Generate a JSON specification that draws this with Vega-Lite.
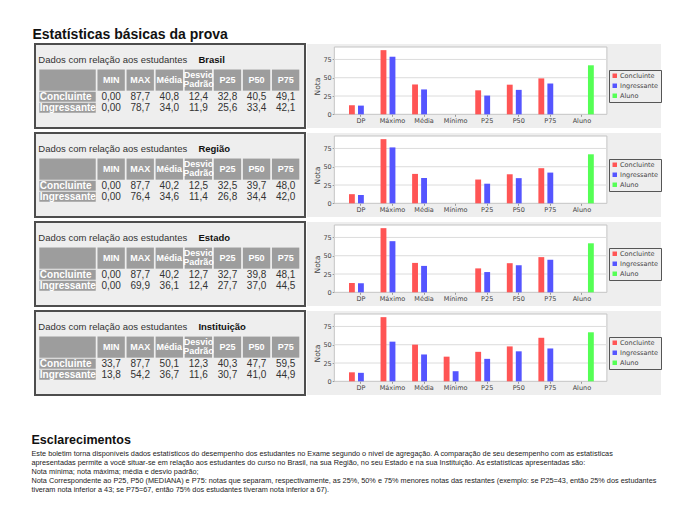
{
  "$schema": "https://vega.github.io/schema/vega-lite/v6.json",
  "background": "#ffffff",
  "padding": {"left": 31, "top": 28, "right": 4, "bottom": 4},
  "title": {"text": "Estatísticas básicas da prova", "anchor": "start", "font": "Liberation Sans", "fontSize": 14, "fontWeight": "bold", "color": "#111111", "offset": 1, "dx": 1},
  "config": {
    "view": {"stroke": null},
    "font": "Liberation Sans",
    "locale": {"number": {"decimal": ",", "thousands": ".", "grouping": [3], "currency": ["R$ ", ""]}}
  },
  "datasets": {
    "stats": [
      {"nivel": "Brasil", "grupo": "Concluinte", "col": "MIN", "cat": "Mínimo", "v": 0},
      {"nivel": "Brasil", "grupo": "Concluinte", "col": "MAX", "cat": "Máximo", "v": 87.7},
      {"nivel": "Brasil", "grupo": "Concluinte", "col": "Média", "cat": "Média", "v": 40.8},
      {"nivel": "Brasil", "grupo": "Concluinte", "col": "Desvio Padrão", "cat": "DP", "v": 12.4},
      {"nivel": "Brasil", "grupo": "Concluinte", "col": "P25", "cat": "P25", "v": 32.8},
      {"nivel": "Brasil", "grupo": "Concluinte", "col": "P50", "cat": "P50", "v": 40.5},
      {"nivel": "Brasil", "grupo": "Concluinte", "col": "P75", "cat": "P75", "v": 49.1},
      {"nivel": "Brasil", "grupo": "Ingressante", "col": "MIN", "cat": "Mínimo", "v": 0},
      {"nivel": "Brasil", "grupo": "Ingressante", "col": "MAX", "cat": "Máximo", "v": 78.7},
      {"nivel": "Brasil", "grupo": "Ingressante", "col": "Média", "cat": "Média", "v": 34.0},
      {"nivel": "Brasil", "grupo": "Ingressante", "col": "Desvio Padrão", "cat": "DP", "v": 11.9},
      {"nivel": "Brasil", "grupo": "Ingressante", "col": "P25", "cat": "P25", "v": 25.6},
      {"nivel": "Brasil", "grupo": "Ingressante", "col": "P50", "cat": "P50", "v": 33.4},
      {"nivel": "Brasil", "grupo": "Ingressante", "col": "P75", "cat": "P75", "v": 42.1},
      {"nivel": "Brasil", "grupo": "Aluno", "col": "", "cat": "Aluno", "v": 67},
      {"nivel": "Região", "grupo": "Concluinte", "col": "MIN", "cat": "Mínimo", "v": 0},
      {"nivel": "Região", "grupo": "Concluinte", "col": "MAX", "cat": "Máximo", "v": 87.7},
      {"nivel": "Região", "grupo": "Concluinte", "col": "Média", "cat": "Média", "v": 40.2},
      {"nivel": "Região", "grupo": "Concluinte", "col": "Desvio Padrão", "cat": "DP", "v": 12.5},
      {"nivel": "Região", "grupo": "Concluinte", "col": "P25", "cat": "P25", "v": 32.5},
      {"nivel": "Região", "grupo": "Concluinte", "col": "P50", "cat": "P50", "v": 39.7},
      {"nivel": "Região", "grupo": "Concluinte", "col": "P75", "cat": "P75", "v": 48.0},
      {"nivel": "Região", "grupo": "Ingressante", "col": "MIN", "cat": "Mínimo", "v": 0},
      {"nivel": "Região", "grupo": "Ingressante", "col": "MAX", "cat": "Máximo", "v": 76.4},
      {"nivel": "Região", "grupo": "Ingressante", "col": "Média", "cat": "Média", "v": 34.6},
      {"nivel": "Região", "grupo": "Ingressante", "col": "Desvio Padrão", "cat": "DP", "v": 11.4},
      {"nivel": "Região", "grupo": "Ingressante", "col": "P25", "cat": "P25", "v": 26.8},
      {"nivel": "Região", "grupo": "Ingressante", "col": "P50", "cat": "P50", "v": 34.4},
      {"nivel": "Região", "grupo": "Ingressante", "col": "P75", "cat": "P75", "v": 42.0},
      {"nivel": "Região", "grupo": "Aluno", "col": "", "cat": "Aluno", "v": 67},
      {"nivel": "Estado", "grupo": "Concluinte", "col": "MIN", "cat": "Mínimo", "v": 0},
      {"nivel": "Estado", "grupo": "Concluinte", "col": "MAX", "cat": "Máximo", "v": 87.7},
      {"nivel": "Estado", "grupo": "Concluinte", "col": "Média", "cat": "Média", "v": 40.2},
      {"nivel": "Estado", "grupo": "Concluinte", "col": "Desvio Padrão", "cat": "DP", "v": 12.7},
      {"nivel": "Estado", "grupo": "Concluinte", "col": "P25", "cat": "P25", "v": 32.7},
      {"nivel": "Estado", "grupo": "Concluinte", "col": "P50", "cat": "P50", "v": 39.8},
      {"nivel": "Estado", "grupo": "Concluinte", "col": "P75", "cat": "P75", "v": 48.1},
      {"nivel": "Estado", "grupo": "Ingressante", "col": "MIN", "cat": "Mínimo", "v": 0},
      {"nivel": "Estado", "grupo": "Ingressante", "col": "MAX", "cat": "Máximo", "v": 69.9},
      {"nivel": "Estado", "grupo": "Ingressante", "col": "Média", "cat": "Média", "v": 36.1},
      {"nivel": "Estado", "grupo": "Ingressante", "col": "Desvio Padrão", "cat": "DP", "v": 12.4},
      {"nivel": "Estado", "grupo": "Ingressante", "col": "P25", "cat": "P25", "v": 27.7},
      {"nivel": "Estado", "grupo": "Ingressante", "col": "P50", "cat": "P50", "v": 37.0},
      {"nivel": "Estado", "grupo": "Ingressante", "col": "P75", "cat": "P75", "v": 44.5},
      {"nivel": "Estado", "grupo": "Aluno", "col": "", "cat": "Aluno", "v": 67},
      {"nivel": "Instituição", "grupo": "Concluinte", "col": "MIN", "cat": "Mínimo", "v": 33.7},
      {"nivel": "Instituição", "grupo": "Concluinte", "col": "MAX", "cat": "Máximo", "v": 87.7},
      {"nivel": "Instituição", "grupo": "Concluinte", "col": "Média", "cat": "Média", "v": 50.1},
      {"nivel": "Instituição", "grupo": "Concluinte", "col": "Desvio Padrão", "cat": "DP", "v": 12.3},
      {"nivel": "Instituição", "grupo": "Concluinte", "col": "P25", "cat": "P25", "v": 40.3},
      {"nivel": "Instituição", "grupo": "Concluinte", "col": "P50", "cat": "P50", "v": 47.7},
      {"nivel": "Instituição", "grupo": "Concluinte", "col": "P75", "cat": "P75", "v": 59.5},
      {"nivel": "Instituição", "grupo": "Ingressante", "col": "MIN", "cat": "Mínimo", "v": 13.8},
      {"nivel": "Instituição", "grupo": "Ingressante", "col": "MAX", "cat": "Máximo", "v": 54.2},
      {"nivel": "Instituição", "grupo": "Ingressante", "col": "Média", "cat": "Média", "v": 36.7},
      {"nivel": "Instituição", "grupo": "Ingressante", "col": "Desvio Padrão", "cat": "DP", "v": 11.6},
      {"nivel": "Instituição", "grupo": "Ingressante", "col": "P25", "cat": "P25", "v": 30.7},
      {"nivel": "Instituição", "grupo": "Ingressante", "col": "P50", "cat": "P50", "v": 41.0},
      {"nivel": "Instituição", "grupo": "Ingressante", "col": "P75", "cat": "P75", "v": 44.9},
      {"nivel": "Instituição", "grupo": "Aluno", "col": "", "cat": "Aluno", "v": 67}
    ]
  },
  "vconcat": [
    {
      "spacing": 1,
      "hconcat": [
        {
          "data": {"name": "stats"},
          "transform": [{"filter": "datum.grupo !== 'Aluno'"}],
          "facet": {"row": {"field": "nivel", "type": "nominal", "sort": ["Brasil", "Região", "Estado", "Instituição"], "header": null}},
          "spacing": {"row": 3},
          "spec": {
            "width": 270,
            "height": 84,
            "view": {"fill": "#eeeeee", "stroke": "#4d4d4d", "strokeWidth": 2},
            "layer": [
              {
                "transform": [{"filter": "datum.grupo === 'Concluinte'"}],
                "mark": {"type": "rect", "fill": "#9d9d9d"},
                "encoding": {
                  "x": {"field": "col", "type": "nominal", "axis": null, "scale": {"domain": ["L1", "L2", "MIN", "MAX", "Média", "Desvio Padrão", "P25", "P50", "P75"], "range": [4.3, 264.3], "paddingInner": 0.06, "paddingOuter": 0}},
                  "y": {"datum": "h1", "type": "nominal", "bandPosition": 0, "axis": null, "scale": {"domain": ["t", "h1", "h2", "Concluinte", "Ingressante"], "range": [14.5, 68.8], "paddingInner": 0.1, "paddingOuter": 0}},
                  "y2": {"datum": "h2", "bandPosition": 1}
                }
              },
              {
                "transform": [{"filter": "datum.grupo === 'Concluinte' && datum.col === 'MIN'"}],
                "mark": {"type": "rect", "fill": "#9d9d9d"},
                "encoding": {
                  "x": {"datum": "L1", "type": "nominal", "bandPosition": 0, "axis": null, "scale": {"domain": ["L1", "L2", "MIN", "MAX", "Média", "Desvio Padrão", "P25", "P50", "P75"], "range": [4.3, 264.3], "paddingInner": 0.06, "paddingOuter": 0}},
                  "x2": {"datum": "L2", "bandPosition": 1},
                  "y": {"datum": "h1", "type": "nominal", "bandPosition": 0, "axis": null, "scale": {"domain": ["t", "h1", "h2", "Concluinte", "Ingressante"], "range": [14.5, 68.8], "paddingInner": 0.1, "paddingOuter": 0}},
                  "y2": {"datum": "h2", "bandPosition": 1}
                }
              },
              {
                "transform": [{"filter": "datum.col === 'MIN'"}],
                "mark": {"type": "rect", "fill": "#9d9d9d"},
                "encoding": {
                  "x": {"datum": "L1", "type": "nominal", "bandPosition": 0, "axis": null, "scale": {"domain": ["L1", "L2", "MIN", "MAX", "Média", "Desvio Padrão", "P25", "P50", "P75"], "range": [4.3, 264.3], "paddingInner": 0.06, "paddingOuter": 0}},
                  "x2": {"datum": "L2", "bandPosition": 1},
                  "y": {"field": "grupo", "type": "nominal", "axis": null, "scale": {"domain": ["t", "h1", "h2", "Concluinte", "Ingressante"], "range": [14.5, 68.8], "paddingInner": 0.1, "paddingOuter": 0}}
                }
              },
              {
                "transform": [{"filter": "datum.grupo === 'Concluinte' && datum.col !== 'Desvio Padrão'"}],
                "mark": {"type": "text", "font": "Liberation Sans", "fontSize": 9, "fontWeight": "bold", "color": "#ffffff", "baseline": "middle", "align": "center"},
                "encoding": {
                  "x": {"field": "col", "type": "nominal", "axis": null, "scale": {"domain": ["L1", "L2", "MIN", "MAX", "Média", "Desvio Padrão", "P25", "P50", "P75"], "range": [4.3, 264.3], "paddingInner": 0.06, "paddingOuter": 0}},
                  "y": {"datum": "h1", "type": "nominal", "bandPosition": 1, "axis": null, "scale": {"domain": ["t", "h1", "h2", "Concluinte", "Ingressante"], "range": [14.5, 68.8], "paddingInner": 0.1, "paddingOuter": 0}},
                  "text": {"field": "col"}
                }
              },
              {
                "transform": [{"filter": "datum.grupo === 'Concluinte' && datum.col === 'Desvio Padrão'"}],
                "mark": {"type": "text", "font": "Liberation Sans", "fontSize": 9, "fontWeight": "bold", "color": "#ffffff", "lineBreak": " ", "lineHeight": 9, "baseline": "middle", "align": "center"},
                "encoding": {
                  "x": {"field": "col", "type": "nominal", "axis": null, "scale": {"domain": ["L1", "L2", "MIN", "MAX", "Média", "Desvio Padrão", "P25", "P50", "P75"], "range": [4.3, 264.3], "paddingInner": 0.06, "paddingOuter": 0}},
                  "y": {"datum": "h1", "type": "nominal", "bandPosition": 0.5, "axis": null, "scale": {"domain": ["t", "h1", "h2", "Concluinte", "Ingressante"], "range": [14.5, 68.8], "paddingInner": 0.1, "paddingOuter": 0}},
                  "text": {"field": "col"}
                }
              },
              {
                "transform": [{"filter": "datum.col === 'MIN'"}],
                "mark": {"type": "text", "font": "Liberation Sans", "fontSize": 10, "fontWeight": "bold", "color": "#ffffff", "align": "left", "baseline": "middle", "dx": 0.5},
                "encoding": {
                  "x": {"datum": "L1", "type": "nominal", "bandPosition": 0, "axis": null, "scale": {"domain": ["L1", "L2", "MIN", "MAX", "Média", "Desvio Padrão", "P25", "P50", "P75"], "range": [4.3, 264.3], "paddingInner": 0.06, "paddingOuter": 0}},
                  "y": {"field": "grupo", "type": "nominal", "axis": null, "scale": {"domain": ["t", "h1", "h2", "Concluinte", "Ingressante"], "range": [14.5, 68.8], "paddingInner": 0.1, "paddingOuter": 0}},
                  "text": {"field": "grupo"}
                }
              },
              {
                "mark": {"type": "text", "font": "Liberation Sans", "fontSize": 10, "color": "#333333", "baseline": "middle", "align": "center"},
                "encoding": {
                  "x": {"field": "col", "type": "nominal", "axis": null, "scale": {"domain": ["L1", "L2", "MIN", "MAX", "Média", "Desvio Padrão", "P25", "P50", "P75"], "range": [4.3, 264.3], "paddingInner": 0.06, "paddingOuter": 0}},
                  "y": {"field": "grupo", "type": "nominal", "axis": null, "scale": {"domain": ["t", "h1", "h2", "Concluinte", "Ingressante"], "range": [14.5, 68.8], "paddingInner": 0.1, "paddingOuter": 0}},
                  "text": {"condition": {"test": "datum.v === 0", "value": "0,00"}, "field": "v", "type": "quantitative", "format": ".1f"}
                }
              },
              {
                "transform": [{"filter": "datum.grupo === 'Concluinte' && datum.col === 'MIN'"}],
                "mark": {"type": "text", "font": "Liberation Sans", "fontSize": 9.5, "color": "#333333", "align": "left", "baseline": "middle", "dx": -1, "dy": -3.5},
                "encoding": {
                  "x": {"datum": "L1", "type": "nominal", "bandPosition": 0, "axis": null, "scale": {"domain": ["L1", "L2", "MIN", "MAX", "Média", "Desvio Padrão", "P25", "P50", "P75"], "range": [4.3, 264.3], "paddingInner": 0.06, "paddingOuter": 0}},
                  "y": {"datum": "t", "type": "nominal", "axis": null, "scale": {"domain": ["t", "h1", "h2", "Concluinte", "Ingressante"], "range": [14.5, 68.8], "paddingInner": 0.1, "paddingOuter": 0}},
                  "text": {"value": "Dados com relação aos estudantes"}
                }
              },
              {
                "transform": [{"filter": "datum.grupo === 'Concluinte' && datum.col === 'MIN'"}],
                "mark": {"type": "text", "font": "Liberation Sans", "fontSize": 9.5, "fontWeight": "bold", "color": "#111111", "align": "left", "baseline": "middle", "dy": -3.5},
                "encoding": {
                  "x": {"datum": "Desvio Padrão", "type": "nominal", "bandPosition": 0.5, "axis": null, "scale": {"domain": ["L1", "L2", "MIN", "MAX", "Média", "Desvio Padrão", "P25", "P50", "P75"], "range": [4.3, 264.3], "paddingInner": 0.06, "paddingOuter": 0}},
                  "y": {"datum": "t", "type": "nominal", "axis": null, "scale": {"domain": ["t", "h1", "h2", "Concluinte", "Ingressante"], "range": [14.5, 68.8], "paddingInner": 0.1, "paddingOuter": 0}},
                  "text": {"field": "nivel"}
                }
              }
            ]
          }
        },
        {
          "spacing": 5,
          "resolve": {"scale": {"color": "independent"}, "legend": {"color": "independent"}},
          "vconcat": [
            {
              "width": 354, "height": 84,
              "view": {"fill": "#eeeeee", "stroke": null},
              "data": {"name": "stats"},
              "transform": [{"filter": "datum.nivel === 'Brasil'"}],
              "layer": [
                {
                  "transform": [{"filter": "datum.grupo === 'Aluno'"}],
                  "mark": {"type": "rect", "fill": "#ffffff", "stroke": "#c4c4c4", "strokeWidth": 1},
                  "encoding": {
                    "x": {"datum": "DP", "type": "nominal", "bandPosition": -0.491, "scale": {"domain": ["DP", "Máximo", "Média", "Mínimo", "P25", "P50", "P75", "Aluno"], "range": [40.5, 288.3], "paddingInner": 0.15, "paddingOuter": 0}, "axis": {"title": null, "offset": -13.7, "domain": false, "tickSize": 2, "tickColor": "#999999", "labelFontSize": 6.5, "labelFont": "DejaVu Sans", "labelColor": "#444444", "labelPadding": 1.5, "labelAngle": 0}},
                    "x2": {"datum": "Aluno", "bandPosition": 1.432},
                    "y": {"datum": 0, "type": "quantitative", "scale": {"domain": [-18.7, 96.1], "nice": false, "zero": false}, "axis": {"title": "Nota", "offset": -27.2, "values": [0, 25, 50, 75], "domain": false, "grid": false, "tickSize": 2, "tickColor": "#999999", "labelFontSize": 6.5, "labelFont": "DejaVu Sans", "labelColor": "#444444", "labelPadding": 1, "titleFont": "DejaVu Sans", "titleFontSize": 7.5, "titleFontWeight": "normal", "titleColor": "#444444", "titlePadding": 1.5}},
                    "y2": {"datum": 92}
                  }
                },
                {
                  "transform": [{"filter": "datum.grupo === 'Aluno'"}],
                  "mark": {"type": "rule", "color": "#dcdcdc", "strokeWidth": 1},
                  "encoding": {
                    "x": {"datum": "DP", "type": "nominal", "bandPosition": -0.491, "scale": {"domain": ["DP", "Máximo", "Média", "Mínimo", "P25", "P50", "P75", "Aluno"], "range": [40.5, 288.3], "paddingInner": 0.15, "paddingOuter": 0}, "axis": {"title": null, "offset": -13.7, "domain": false, "tickSize": 2, "tickColor": "#999999", "labelFontSize": 6.5, "labelFont": "DejaVu Sans", "labelColor": "#444444", "labelPadding": 1.5, "labelAngle": 0}},
                    "x2": {"datum": "Aluno", "bandPosition": 1.432},
                    "y": {"datum": 25, "type": "quantitative", "scale": {"domain": [-18.7, 96.1], "nice": false, "zero": false}, "axis": {"title": "Nota", "offset": -27.2, "values": [0, 25, 50, 75], "domain": false, "grid": false, "tickSize": 2, "tickColor": "#999999", "labelFontSize": 6.5, "labelFont": "DejaVu Sans", "labelColor": "#444444", "labelPadding": 1, "titleFont": "DejaVu Sans", "titleFontSize": 7.5, "titleFontWeight": "normal", "titleColor": "#444444", "titlePadding": 1.5}}
                  }
                },
                {
                  "transform": [{"filter": "datum.grupo === 'Aluno'"}],
                  "mark": {"type": "rule", "color": "#dcdcdc", "strokeWidth": 1},
                  "encoding": {
                    "x": {"datum": "DP", "type": "nominal", "bandPosition": -0.491, "scale": {"domain": ["DP", "Máximo", "Média", "Mínimo", "P25", "P50", "P75", "Aluno"], "range": [40.5, 288.3], "paddingInner": 0.15, "paddingOuter": 0}, "axis": {"title": null, "offset": -13.7, "domain": false, "tickSize": 2, "tickColor": "#999999", "labelFontSize": 6.5, "labelFont": "DejaVu Sans", "labelColor": "#444444", "labelPadding": 1.5, "labelAngle": 0}},
                    "x2": {"datum": "Aluno", "bandPosition": 1.432},
                    "y": {"datum": 50, "type": "quantitative", "scale": {"domain": [-18.7, 96.1], "nice": false, "zero": false}, "axis": {"title": "Nota", "offset": -27.2, "values": [0, 25, 50, 75], "domain": false, "grid": false, "tickSize": 2, "tickColor": "#999999", "labelFontSize": 6.5, "labelFont": "DejaVu Sans", "labelColor": "#444444", "labelPadding": 1, "titleFont": "DejaVu Sans", "titleFontSize": 7.5, "titleFontWeight": "normal", "titleColor": "#444444", "titlePadding": 1.5}}
                  }
                },
                {
                  "transform": [{"filter": "datum.grupo === 'Aluno'"}],
                  "mark": {"type": "rule", "color": "#dcdcdc", "strokeWidth": 1},
                  "encoding": {
                    "x": {"datum": "DP", "type": "nominal", "bandPosition": -0.491, "scale": {"domain": ["DP", "Máximo", "Média", "Mínimo", "P25", "P50", "P75", "Aluno"], "range": [40.5, 288.3], "paddingInner": 0.15, "paddingOuter": 0}, "axis": {"title": null, "offset": -13.7, "domain": false, "tickSize": 2, "tickColor": "#999999", "labelFontSize": 6.5, "labelFont": "DejaVu Sans", "labelColor": "#444444", "labelPadding": 1.5, "labelAngle": 0}},
                    "x2": {"datum": "Aluno", "bandPosition": 1.432},
                    "y": {"datum": 75, "type": "quantitative", "scale": {"domain": [-18.7, 96.1], "nice": false, "zero": false}, "axis": {"title": "Nota", "offset": -27.2, "values": [0, 25, 50, 75], "domain": false, "grid": false, "tickSize": 2, "tickColor": "#999999", "labelFontSize": 6.5, "labelFont": "DejaVu Sans", "labelColor": "#444444", "labelPadding": 1, "titleFont": "DejaVu Sans", "titleFontSize": 7.5, "titleFontWeight": "normal", "titleColor": "#444444", "titlePadding": 1.5}}
                  }
                },
                {
                  "mark": {"type": "bar"},
                  "encoding": {
                    "x": {"field": "cat", "type": "nominal", "scale": {"domain": ["DP", "Máximo", "Média", "Mínimo", "P25", "P50", "P75", "Aluno"], "range": [40.5, 288.3], "paddingInner": 0.15, "paddingOuter": 0}, "axis": {"title": null, "offset": -13.7, "domain": false, "tickSize": 2, "tickColor": "#999999", "labelFontSize": 6.5, "labelFont": "DejaVu Sans", "labelColor": "#444444", "labelPadding": 1.5, "labelAngle": 0}},
                    "xOffset": {"field": "grupo", "type": "nominal", "scale": {"domain": ["Concluinte", "Ingressante", "Aluno"], "paddingInner": 0.35, "paddingOuter": 0.165}},
                    "y": {"field": "v", "type": "quantitative", "scale": {"domain": [-18.7, 96.1], "nice": false, "zero": false}, "axis": {"title": "Nota", "offset": -27.2, "values": [0, 25, 50, 75], "domain": false, "grid": false, "tickSize": 2, "tickColor": "#999999", "labelFontSize": 6.5, "labelFont": "DejaVu Sans", "labelColor": "#444444", "labelPadding": 1, "titleFont": "DejaVu Sans", "titleFontSize": 7.5, "titleFontWeight": "normal", "titleColor": "#444444", "titlePadding": 1.5}},
                    "y2": {"datum": 0},
                    "color": {"field": "grupo", "type": "nominal", "scale": {"domain": ["Concluinte", "Ingressante", "Aluno"], "range": ["#ff5555", "#5555ff", "#55ff55"]}, "legend": {"title": null, "orient": "none", "legendX": 302, "legendY": 26, "strokeColor": "#555555", "fillColor": "#eeeeee", "padding": 2.5, "symbolType": "square", "symbolSize": 20, "symbolStrokeWidth": 0, "labelFont": "DejaVu Sans", "labelFontSize": 6.5, "labelColor": "#444444", "rowPadding": 3, "labelOffset": 2}}
                  }
                }
              ]
            },
            {
              "width": 354, "height": 84,
              "view": {"fill": "#eeeeee", "stroke": null},
              "data": {"name": "stats"},
              "transform": [{"filter": "datum.nivel === 'Região'"}],
              "layer": [
                {
                  "transform": [{"filter": "datum.grupo === 'Aluno'"}],
                  "mark": {"type": "rect", "fill": "#ffffff", "stroke": "#c4c4c4", "strokeWidth": 1},
                  "encoding": {
                    "x": {"datum": "DP", "type": "nominal", "bandPosition": -0.491, "scale": {"domain": ["DP", "Máximo", "Média", "Mínimo", "P25", "P50", "P75", "Aluno"], "range": [40.5, 288.3], "paddingInner": 0.15, "paddingOuter": 0}, "axis": {"title": null, "offset": -13.7, "domain": false, "tickSize": 2, "tickColor": "#999999", "labelFontSize": 6.5, "labelFont": "DejaVu Sans", "labelColor": "#444444", "labelPadding": 1.5, "labelAngle": 0}},
                    "x2": {"datum": "Aluno", "bandPosition": 1.432},
                    "y": {"datum": 0, "type": "quantitative", "scale": {"domain": [-18.7, 96.1], "nice": false, "zero": false}, "axis": {"title": "Nota", "offset": -27.2, "values": [0, 25, 50, 75], "domain": false, "grid": false, "tickSize": 2, "tickColor": "#999999", "labelFontSize": 6.5, "labelFont": "DejaVu Sans", "labelColor": "#444444", "labelPadding": 1, "titleFont": "DejaVu Sans", "titleFontSize": 7.5, "titleFontWeight": "normal", "titleColor": "#444444", "titlePadding": 1.5}},
                    "y2": {"datum": 92}
                  }
                },
                {
                  "transform": [{"filter": "datum.grupo === 'Aluno'"}],
                  "mark": {"type": "rule", "color": "#dcdcdc", "strokeWidth": 1},
                  "encoding": {
                    "x": {"datum": "DP", "type": "nominal", "bandPosition": -0.491, "scale": {"domain": ["DP", "Máximo", "Média", "Mínimo", "P25", "P50", "P75", "Aluno"], "range": [40.5, 288.3], "paddingInner": 0.15, "paddingOuter": 0}, "axis": {"title": null, "offset": -13.7, "domain": false, "tickSize": 2, "tickColor": "#999999", "labelFontSize": 6.5, "labelFont": "DejaVu Sans", "labelColor": "#444444", "labelPadding": 1.5, "labelAngle": 0}},
                    "x2": {"datum": "Aluno", "bandPosition": 1.432},
                    "y": {"datum": 25, "type": "quantitative", "scale": {"domain": [-18.7, 96.1], "nice": false, "zero": false}, "axis": {"title": "Nota", "offset": -27.2, "values": [0, 25, 50, 75], "domain": false, "grid": false, "tickSize": 2, "tickColor": "#999999", "labelFontSize": 6.5, "labelFont": "DejaVu Sans", "labelColor": "#444444", "labelPadding": 1, "titleFont": "DejaVu Sans", "titleFontSize": 7.5, "titleFontWeight": "normal", "titleColor": "#444444", "titlePadding": 1.5}}
                  }
                },
                {
                  "transform": [{"filter": "datum.grupo === 'Aluno'"}],
                  "mark": {"type": "rule", "color": "#dcdcdc", "strokeWidth": 1},
                  "encoding": {
                    "x": {"datum": "DP", "type": "nominal", "bandPosition": -0.491, "scale": {"domain": ["DP", "Máximo", "Média", "Mínimo", "P25", "P50", "P75", "Aluno"], "range": [40.5, 288.3], "paddingInner": 0.15, "paddingOuter": 0}, "axis": {"title": null, "offset": -13.7, "domain": false, "tickSize": 2, "tickColor": "#999999", "labelFontSize": 6.5, "labelFont": "DejaVu Sans", "labelColor": "#444444", "labelPadding": 1.5, "labelAngle": 0}},
                    "x2": {"datum": "Aluno", "bandPosition": 1.432},
                    "y": {"datum": 50, "type": "quantitative", "scale": {"domain": [-18.7, 96.1], "nice": false, "zero": false}, "axis": {"title": "Nota", "offset": -27.2, "values": [0, 25, 50, 75], "domain": false, "grid": false, "tickSize": 2, "tickColor": "#999999", "labelFontSize": 6.5, "labelFont": "DejaVu Sans", "labelColor": "#444444", "labelPadding": 1, "titleFont": "DejaVu Sans", "titleFontSize": 7.5, "titleFontWeight": "normal", "titleColor": "#444444", "titlePadding": 1.5}}
                  }
                },
                {
                  "transform": [{"filter": "datum.grupo === 'Aluno'"}],
                  "mark": {"type": "rule", "color": "#dcdcdc", "strokeWidth": 1},
                  "encoding": {
                    "x": {"datum": "DP", "type": "nominal", "bandPosition": -0.491, "scale": {"domain": ["DP", "Máximo", "Média", "Mínimo", "P25", "P50", "P75", "Aluno"], "range": [40.5, 288.3], "paddingInner": 0.15, "paddingOuter": 0}, "axis": {"title": null, "offset": -13.7, "domain": false, "tickSize": 2, "tickColor": "#999999", "labelFontSize": 6.5, "labelFont": "DejaVu Sans", "labelColor": "#444444", "labelPadding": 1.5, "labelAngle": 0}},
                    "x2": {"datum": "Aluno", "bandPosition": 1.432},
                    "y": {"datum": 75, "type": "quantitative", "scale": {"domain": [-18.7, 96.1], "nice": false, "zero": false}, "axis": {"title": "Nota", "offset": -27.2, "values": [0, 25, 50, 75], "domain": false, "grid": false, "tickSize": 2, "tickColor": "#999999", "labelFontSize": 6.5, "labelFont": "DejaVu Sans", "labelColor": "#444444", "labelPadding": 1, "titleFont": "DejaVu Sans", "titleFontSize": 7.5, "titleFontWeight": "normal", "titleColor": "#444444", "titlePadding": 1.5}}
                  }
                },
                {
                  "mark": {"type": "bar"},
                  "encoding": {
                    "x": {"field": "cat", "type": "nominal", "scale": {"domain": ["DP", "Máximo", "Média", "Mínimo", "P25", "P50", "P75", "Aluno"], "range": [40.5, 288.3], "paddingInner": 0.15, "paddingOuter": 0}, "axis": {"title": null, "offset": -13.7, "domain": false, "tickSize": 2, "tickColor": "#999999", "labelFontSize": 6.5, "labelFont": "DejaVu Sans", "labelColor": "#444444", "labelPadding": 1.5, "labelAngle": 0}},
                    "xOffset": {"field": "grupo", "type": "nominal", "scale": {"domain": ["Concluinte", "Ingressante", "Aluno"], "paddingInner": 0.35, "paddingOuter": 0.165}},
                    "y": {"field": "v", "type": "quantitative", "scale": {"domain": [-18.7, 96.1], "nice": false, "zero": false}, "axis": {"title": "Nota", "offset": -27.2, "values": [0, 25, 50, 75], "domain": false, "grid": false, "tickSize": 2, "tickColor": "#999999", "labelFontSize": 6.5, "labelFont": "DejaVu Sans", "labelColor": "#444444", "labelPadding": 1, "titleFont": "DejaVu Sans", "titleFontSize": 7.5, "titleFontWeight": "normal", "titleColor": "#444444", "titlePadding": 1.5}},
                    "y2": {"datum": 0},
                    "color": {"field": "grupo", "type": "nominal", "scale": {"domain": ["Concluinte", "Ingressante", "Aluno"], "range": ["#ff5555", "#5555ff", "#55ff55"]}, "legend": {"title": null, "orient": "none", "legendX": 302, "legendY": 26, "strokeColor": "#555555", "fillColor": "#eeeeee", "padding": 2.5, "symbolType": "square", "symbolSize": 20, "symbolStrokeWidth": 0, "labelFont": "DejaVu Sans", "labelFontSize": 6.5, "labelColor": "#444444", "rowPadding": 3, "labelOffset": 2}}
                  }
                }
              ]
            },
            {
              "width": 354, "height": 84,
              "view": {"fill": "#eeeeee", "stroke": null},
              "data": {"name": "stats"},
              "transform": [{"filter": "datum.nivel === 'Estado'"}],
              "layer": [
                {
                  "transform": [{"filter": "datum.grupo === 'Aluno'"}],
                  "mark": {"type": "rect", "fill": "#ffffff", "stroke": "#c4c4c4", "strokeWidth": 1},
                  "encoding": {
                    "x": {"datum": "DP", "type": "nominal", "bandPosition": -0.491, "scale": {"domain": ["DP", "Máximo", "Média", "Mínimo", "P25", "P50", "P75", "Aluno"], "range": [40.5, 288.3], "paddingInner": 0.15, "paddingOuter": 0}, "axis": {"title": null, "offset": -13.7, "domain": false, "tickSize": 2, "tickColor": "#999999", "labelFontSize": 6.5, "labelFont": "DejaVu Sans", "labelColor": "#444444", "labelPadding": 1.5, "labelAngle": 0}},
                    "x2": {"datum": "Aluno", "bandPosition": 1.432},
                    "y": {"datum": 0, "type": "quantitative", "scale": {"domain": [-18.7, 96.1], "nice": false, "zero": false}, "axis": {"title": "Nota", "offset": -27.2, "values": [0, 25, 50, 75], "domain": false, "grid": false, "tickSize": 2, "tickColor": "#999999", "labelFontSize": 6.5, "labelFont": "DejaVu Sans", "labelColor": "#444444", "labelPadding": 1, "titleFont": "DejaVu Sans", "titleFontSize": 7.5, "titleFontWeight": "normal", "titleColor": "#444444", "titlePadding": 1.5}},
                    "y2": {"datum": 92}
                  }
                },
                {
                  "transform": [{"filter": "datum.grupo === 'Aluno'"}],
                  "mark": {"type": "rule", "color": "#dcdcdc", "strokeWidth": 1},
                  "encoding": {
                    "x": {"datum": "DP", "type": "nominal", "bandPosition": -0.491, "scale": {"domain": ["DP", "Máximo", "Média", "Mínimo", "P25", "P50", "P75", "Aluno"], "range": [40.5, 288.3], "paddingInner": 0.15, "paddingOuter": 0}, "axis": {"title": null, "offset": -13.7, "domain": false, "tickSize": 2, "tickColor": "#999999", "labelFontSize": 6.5, "labelFont": "DejaVu Sans", "labelColor": "#444444", "labelPadding": 1.5, "labelAngle": 0}},
                    "x2": {"datum": "Aluno", "bandPosition": 1.432},
                    "y": {"datum": 25, "type": "quantitative", "scale": {"domain": [-18.7, 96.1], "nice": false, "zero": false}, "axis": {"title": "Nota", "offset": -27.2, "values": [0, 25, 50, 75], "domain": false, "grid": false, "tickSize": 2, "tickColor": "#999999", "labelFontSize": 6.5, "labelFont": "DejaVu Sans", "labelColor": "#444444", "labelPadding": 1, "titleFont": "DejaVu Sans", "titleFontSize": 7.5, "titleFontWeight": "normal", "titleColor": "#444444", "titlePadding": 1.5}}
                  }
                },
                {
                  "transform": [{"filter": "datum.grupo === 'Aluno'"}],
                  "mark": {"type": "rule", "color": "#dcdcdc", "strokeWidth": 1},
                  "encoding": {
                    "x": {"datum": "DP", "type": "nominal", "bandPosition": -0.491, "scale": {"domain": ["DP", "Máximo", "Média", "Mínimo", "P25", "P50", "P75", "Aluno"], "range": [40.5, 288.3], "paddingInner": 0.15, "paddingOuter": 0}, "axis": {"title": null, "offset": -13.7, "domain": false, "tickSize": 2, "tickColor": "#999999", "labelFontSize": 6.5, "labelFont": "DejaVu Sans", "labelColor": "#444444", "labelPadding": 1.5, "labelAngle": 0}},
                    "x2": {"datum": "Aluno", "bandPosition": 1.432},
                    "y": {"datum": 50, "type": "quantitative", "scale": {"domain": [-18.7, 96.1], "nice": false, "zero": false}, "axis": {"title": "Nota", "offset": -27.2, "values": [0, 25, 50, 75], "domain": false, "grid": false, "tickSize": 2, "tickColor": "#999999", "labelFontSize": 6.5, "labelFont": "DejaVu Sans", "labelColor": "#444444", "labelPadding": 1, "titleFont": "DejaVu Sans", "titleFontSize": 7.5, "titleFontWeight": "normal", "titleColor": "#444444", "titlePadding": 1.5}}
                  }
                },
                {
                  "transform": [{"filter": "datum.grupo === 'Aluno'"}],
                  "mark": {"type": "rule", "color": "#dcdcdc", "strokeWidth": 1},
                  "encoding": {
                    "x": {"datum": "DP", "type": "nominal", "bandPosition": -0.491, "scale": {"domain": ["DP", "Máximo", "Média", "Mínimo", "P25", "P50", "P75", "Aluno"], "range": [40.5, 288.3], "paddingInner": 0.15, "paddingOuter": 0}, "axis": {"title": null, "offset": -13.7, "domain": false, "tickSize": 2, "tickColor": "#999999", "labelFontSize": 6.5, "labelFont": "DejaVu Sans", "labelColor": "#444444", "labelPadding": 1.5, "labelAngle": 0}},
                    "x2": {"datum": "Aluno", "bandPosition": 1.432},
                    "y": {"datum": 75, "type": "quantitative", "scale": {"domain": [-18.7, 96.1], "nice": false, "zero": false}, "axis": {"title": "Nota", "offset": -27.2, "values": [0, 25, 50, 75], "domain": false, "grid": false, "tickSize": 2, "tickColor": "#999999", "labelFontSize": 6.5, "labelFont": "DejaVu Sans", "labelColor": "#444444", "labelPadding": 1, "titleFont": "DejaVu Sans", "titleFontSize": 7.5, "titleFontWeight": "normal", "titleColor": "#444444", "titlePadding": 1.5}}
                  }
                },
                {
                  "mark": {"type": "bar"},
                  "encoding": {
                    "x": {"field": "cat", "type": "nominal", "scale": {"domain": ["DP", "Máximo", "Média", "Mínimo", "P25", "P50", "P75", "Aluno"], "range": [40.5, 288.3], "paddingInner": 0.15, "paddingOuter": 0}, "axis": {"title": null, "offset": -13.7, "domain": false, "tickSize": 2, "tickColor": "#999999", "labelFontSize": 6.5, "labelFont": "DejaVu Sans", "labelColor": "#444444", "labelPadding": 1.5, "labelAngle": 0}},
                    "xOffset": {"field": "grupo", "type": "nominal", "scale": {"domain": ["Concluinte", "Ingressante", "Aluno"], "paddingInner": 0.35, "paddingOuter": 0.165}},
                    "y": {"field": "v", "type": "quantitative", "scale": {"domain": [-18.7, 96.1], "nice": false, "zero": false}, "axis": {"title": "Nota", "offset": -27.2, "values": [0, 25, 50, 75], "domain": false, "grid": false, "tickSize": 2, "tickColor": "#999999", "labelFontSize": 6.5, "labelFont": "DejaVu Sans", "labelColor": "#444444", "labelPadding": 1, "titleFont": "DejaVu Sans", "titleFontSize": 7.5, "titleFontWeight": "normal", "titleColor": "#444444", "titlePadding": 1.5}},
                    "y2": {"datum": 0},
                    "color": {"field": "grupo", "type": "nominal", "scale": {"domain": ["Concluinte", "Ingressante", "Aluno"], "range": ["#ff5555", "#5555ff", "#55ff55"]}, "legend": {"title": null, "orient": "none", "legendX": 302, "legendY": 26, "strokeColor": "#555555", "fillColor": "#eeeeee", "padding": 2.5, "symbolType": "square", "symbolSize": 20, "symbolStrokeWidth": 0, "labelFont": "DejaVu Sans", "labelFontSize": 6.5, "labelColor": "#444444", "rowPadding": 3, "labelOffset": 2}}
                  }
                }
              ]
            },
            {
              "width": 354, "height": 84,
              "view": {"fill": "#eeeeee", "stroke": null},
              "data": {"name": "stats"},
              "transform": [{"filter": "datum.nivel === 'Instituição'"}],
              "layer": [
                {
                  "transform": [{"filter": "datum.grupo === 'Aluno'"}],
                  "mark": {"type": "rect", "fill": "#ffffff", "stroke": "#c4c4c4", "strokeWidth": 1},
                  "encoding": {
                    "x": {"datum": "DP", "type": "nominal", "bandPosition": -0.491, "scale": {"domain": ["DP", "Máximo", "Média", "Mínimo", "P25", "P50", "P75", "Aluno"], "range": [40.5, 288.3], "paddingInner": 0.15, "paddingOuter": 0}, "axis": {"title": null, "offset": -13.7, "domain": false, "tickSize": 2, "tickColor": "#999999", "labelFontSize": 6.5, "labelFont": "DejaVu Sans", "labelColor": "#444444", "labelPadding": 1.5, "labelAngle": 0}},
                    "x2": {"datum": "Aluno", "bandPosition": 1.432},
                    "y": {"datum": 0, "type": "quantitative", "scale": {"domain": [-18.7, 96.1], "nice": false, "zero": false}, "axis": {"title": "Nota", "offset": -27.2, "values": [0, 25, 50, 75], "domain": false, "grid": false, "tickSize": 2, "tickColor": "#999999", "labelFontSize": 6.5, "labelFont": "DejaVu Sans", "labelColor": "#444444", "labelPadding": 1, "titleFont": "DejaVu Sans", "titleFontSize": 7.5, "titleFontWeight": "normal", "titleColor": "#444444", "titlePadding": 1.5}},
                    "y2": {"datum": 92}
                  }
                },
                {
                  "transform": [{"filter": "datum.grupo === 'Aluno'"}],
                  "mark": {"type": "rule", "color": "#dcdcdc", "strokeWidth": 1},
                  "encoding": {
                    "x": {"datum": "DP", "type": "nominal", "bandPosition": -0.491, "scale": {"domain": ["DP", "Máximo", "Média", "Mínimo", "P25", "P50", "P75", "Aluno"], "range": [40.5, 288.3], "paddingInner": 0.15, "paddingOuter": 0}, "axis": {"title": null, "offset": -13.7, "domain": false, "tickSize": 2, "tickColor": "#999999", "labelFontSize": 6.5, "labelFont": "DejaVu Sans", "labelColor": "#444444", "labelPadding": 1.5, "labelAngle": 0}},
                    "x2": {"datum": "Aluno", "bandPosition": 1.432},
                    "y": {"datum": 25, "type": "quantitative", "scale": {"domain": [-18.7, 96.1], "nice": false, "zero": false}, "axis": {"title": "Nota", "offset": -27.2, "values": [0, 25, 50, 75], "domain": false, "grid": false, "tickSize": 2, "tickColor": "#999999", "labelFontSize": 6.5, "labelFont": "DejaVu Sans", "labelColor": "#444444", "labelPadding": 1, "titleFont": "DejaVu Sans", "titleFontSize": 7.5, "titleFontWeight": "normal", "titleColor": "#444444", "titlePadding": 1.5}}
                  }
                },
                {
                  "transform": [{"filter": "datum.grupo === 'Aluno'"}],
                  "mark": {"type": "rule", "color": "#dcdcdc", "strokeWidth": 1},
                  "encoding": {
                    "x": {"datum": "DP", "type": "nominal", "bandPosition": -0.491, "scale": {"domain": ["DP", "Máximo", "Média", "Mínimo", "P25", "P50", "P75", "Aluno"], "range": [40.5, 288.3], "paddingInner": 0.15, "paddingOuter": 0}, "axis": {"title": null, "offset": -13.7, "domain": false, "tickSize": 2, "tickColor": "#999999", "labelFontSize": 6.5, "labelFont": "DejaVu Sans", "labelColor": "#444444", "labelPadding": 1.5, "labelAngle": 0}},
                    "x2": {"datum": "Aluno", "bandPosition": 1.432},
                    "y": {"datum": 50, "type": "quantitative", "scale": {"domain": [-18.7, 96.1], "nice": false, "zero": false}, "axis": {"title": "Nota", "offset": -27.2, "values": [0, 25, 50, 75], "domain": false, "grid": false, "tickSize": 2, "tickColor": "#999999", "labelFontSize": 6.5, "labelFont": "DejaVu Sans", "labelColor": "#444444", "labelPadding": 1, "titleFont": "DejaVu Sans", "titleFontSize": 7.5, "titleFontWeight": "normal", "titleColor": "#444444", "titlePadding": 1.5}}
                  }
                },
                {
                  "transform": [{"filter": "datum.grupo === 'Aluno'"}],
                  "mark": {"type": "rule", "color": "#dcdcdc", "strokeWidth": 1},
                  "encoding": {
                    "x": {"datum": "DP", "type": "nominal", "bandPosition": -0.491, "scale": {"domain": ["DP", "Máximo", "Média", "Mínimo", "P25", "P50", "P75", "Aluno"], "range": [40.5, 288.3], "paddingInner": 0.15, "paddingOuter": 0}, "axis": {"title": null, "offset": -13.7, "domain": false, "tickSize": 2, "tickColor": "#999999", "labelFontSize": 6.5, "labelFont": "DejaVu Sans", "labelColor": "#444444", "labelPadding": 1.5, "labelAngle": 0}},
                    "x2": {"datum": "Aluno", "bandPosition": 1.432},
                    "y": {"datum": 75, "type": "quantitative", "scale": {"domain": [-18.7, 96.1], "nice": false, "zero": false}, "axis": {"title": "Nota", "offset": -27.2, "values": [0, 25, 50, 75], "domain": false, "grid": false, "tickSize": 2, "tickColor": "#999999", "labelFontSize": 6.5, "labelFont": "DejaVu Sans", "labelColor": "#444444", "labelPadding": 1, "titleFont": "DejaVu Sans", "titleFontSize": 7.5, "titleFontWeight": "normal", "titleColor": "#444444", "titlePadding": 1.5}}
                  }
                },
                {
                  "mark": {"type": "bar"},
                  "encoding": {
                    "x": {"field": "cat", "type": "nominal", "scale": {"domain": ["DP", "Máximo", "Média", "Mínimo", "P25", "P50", "P75", "Aluno"], "range": [40.5, 288.3], "paddingInner": 0.15, "paddingOuter": 0}, "axis": {"title": null, "offset": -13.7, "domain": false, "tickSize": 2, "tickColor": "#999999", "labelFontSize": 6.5, "labelFont": "DejaVu Sans", "labelColor": "#444444", "labelPadding": 1.5, "labelAngle": 0}},
                    "xOffset": {"field": "grupo", "type": "nominal", "scale": {"domain": ["Concluinte", "Ingressante", "Aluno"], "paddingInner": 0.35, "paddingOuter": 0.165}},
                    "y": {"field": "v", "type": "quantitative", "scale": {"domain": [-18.7, 96.1], "nice": false, "zero": false}, "axis": {"title": "Nota", "offset": -27.2, "values": [0, 25, 50, 75], "domain": false, "grid": false, "tickSize": 2, "tickColor": "#999999", "labelFontSize": 6.5, "labelFont": "DejaVu Sans", "labelColor": "#444444", "labelPadding": 1, "titleFont": "DejaVu Sans", "titleFontSize": 7.5, "titleFontWeight": "normal", "titleColor": "#444444", "titlePadding": 1.5}},
                    "y2": {"datum": 0},
                    "color": {"field": "grupo", "type": "nominal", "scale": {"domain": ["Concluinte", "Ingressante", "Aluno"], "range": ["#ff5555", "#5555ff", "#55ff55"]}, "legend": {"title": null, "orient": "none", "legendX": 302, "legendY": 26, "strokeColor": "#555555", "fillColor": "#eeeeee", "padding": 2.5, "symbolType": "square", "symbolSize": 20, "symbolStrokeWidth": 0, "labelFont": "DejaVu Sans", "labelFontSize": 6.5, "labelColor": "#444444", "rowPadding": 3, "labelOffset": 2}}
                  }
                }
              ]
            }
          ]
        }
      ]
    },
    {
      "width": 600,
      "height": 1,
      "data": {"values": [{}]},
      "mark": {"type": "text"},
      "encoding": {"text": {"value": ""}},
      "title": {
        "text": "Esclarecimentos",
        "subtitle": [
          "Este boletim torna disponíveis dados estatísticos do desempenho dos estudantes no Exame segundo o nível de agregação. A comparação de seu desempenho com as estatísticas",
          "apresentadas permite a você situar-se em relação aos estudantes do curso no Brasil, na sua Região, no seu Estado e na sua Instituição. As estatísticas apresentadas são:",
          "Nota mínima; nota máxima; média e desvio padrão;",
          "Nota Correspondente ao P25, P50 (MEDIANA) e P75: notas que separam, respectivamente, as 25%, 50% e 75% menores notas das restantes (exemplo: se P25=43, então 25% dos estudantes",
          "tiveram nota inferior a 43; se P75=67, então 75% dos estudantes tiveram nota inferior a 67)."
        ],
        "anchor": "start",
        "dx": -3.5,
        "font": "Liberation Sans",
        "fontSize": 12.5,
        "fontWeight": "bold",
        "color": "#111111",
        "subtitleFont": "Liberation Sans",
        "subtitleFontSize": 7.3,
        "subtitleColor": "#222222",
        "subtitleLineHeight": 9,
        "subtitlePadding": 4,
        "offset": 2
      }
    }
  ],
  "spacing": 37
}
